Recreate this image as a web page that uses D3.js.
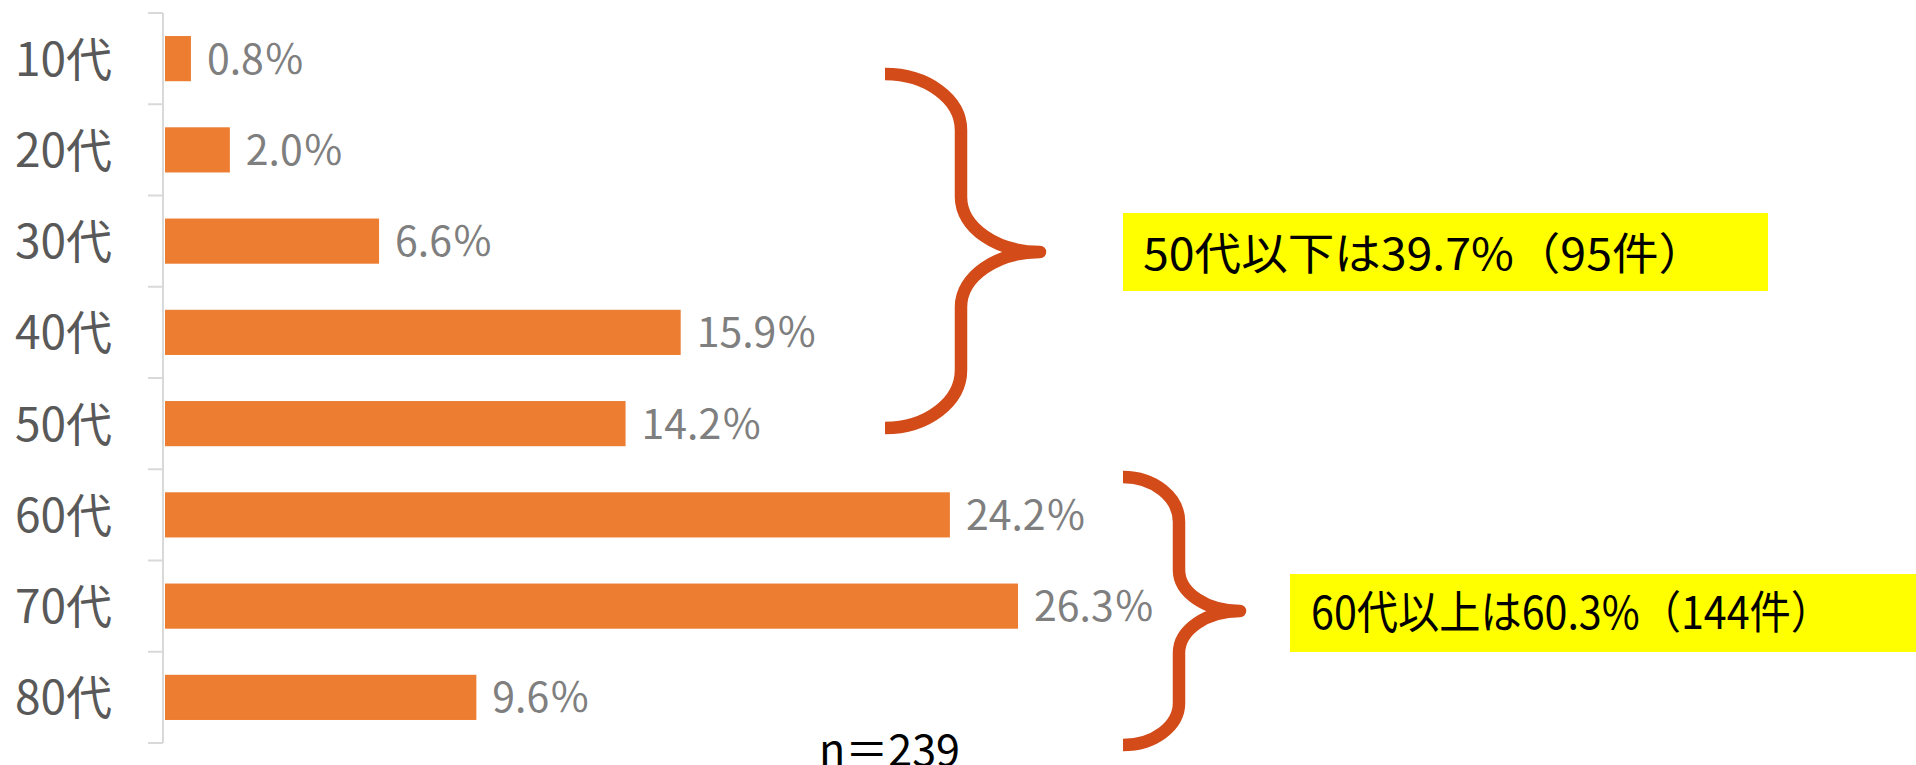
<!DOCTYPE html>
<html>
<head>
<meta charset="utf-8">
<script src="https://cdn.jsdelivr.net/npm/d3@7"></script>
<style>
  body { margin: 0; background: #fff; }
  svg { display: block; }
  text { font-family: "Noto Sans CJK JP", "Noto Sans", sans-serif; }
</style>
</head>
<body>
<script>
// age groups and share (%)
var ages = ["10代", "20代", "30代", "40代", "50代", "60代", "70代", "80代"];
var shares = [0.8, 2.0, 6.6, 15.9, 14.2, 24.2, 26.3, 9.6];
var shareLabels = ["0.8％", "2.0％", "6.6％", "15.9％", "14.2％", "24.2％", "26.3％", "9.6％"];
var noteTexts = ["50代以下は39.7%（95件）", "60代以上は60.3%（144件）"];
var sampleText = "n＝239";

var W = 1916, H = 765;
var axisX = 163, plotTop = 13, plotBottom = 743;

var svg = d3.select("body").append("svg")
  .attr("width", W)
  .attr("height", H);

var x = d3.scaleLinear()
  .domain([0, 30])
  .range([axisX + 2, axisX + 2 + 973]);

var y = d3.scaleBand()
  .domain(ages)
  .range([plotTop, plotBottom])
  .paddingInner(0.505)
  .paddingOuter(0.2525);

var data = ages.map(function (a, i) { return {age: a, v: shares[i], label: shareLabels[i]}; });

// bars
svg.selectAll("rect.bar")
  .data(data)
  .enter().append("rect")
  .attr("class", "bar")
  .attr("x", x(0))
  .attr("y", function (d) { return y(d.age); })
  .attr("width", function (d) { return x(d.v) - x(0); })
  .attr("height", y.bandwidth())
  .attr("fill", "#ed7d31");

// axis line + ticks at band edges
var edges = ages.map(function (a) { return y(a) - y.step() * y.paddingInner() / 2; });
edges.push(plotBottom);
svg.append("line")
  .attr("x1", axisX).attr("x2", axisX)
  .attr("y1", plotTop).attr("y2", plotBottom)
  .attr("stroke", "#d9d9d9").attr("stroke-width", 2);
svg.selectAll("line.tick")
  .data(edges)
  .enter().append("line")
  .attr("class", "tick")
  .attr("x1", axisX - 15).attr("x2", axisX)
  .attr("y1", function (d) { return d; })
  .attr("y2", function (d) { return d; })
  .attr("stroke", "#d9d9d9").attr("stroke-width", 2);

// category labels
svg.selectAll("text.cat")
  .data(data)
  .enter().append("text")
  .attr("class", "cat")
  .attr("x", 15)
  .attr("y", function (d) { return y(d.age) + y.bandwidth() / 2 + 17; })
  .attr("font-size", 46)
  .attr("fill", "#595959")
  .text(function (d) { return d.age; });

// value labels
svg.selectAll("text.val")
  .data(data)
  .enter().append("text")
  .attr("class", "val")
  .attr("x", function (d) { return x(d.v) + 16; })
  .attr("y", function (d) { return y(d.age) + y.bandwidth() / 2 + 15; })
  .attr("font-size", 41)
  .attr("fill", "#7f7f7f")
  .text(function (d) { return d.label; });

// braces (quarter-ellipse corners)
var k = 0.552;
function brace(x0, xm, xt, ys) {
  return "M" + x0 + "," + ys[0] +
    " C" + (x0 + (xm - x0) * k) + "," + ys[0] + " " + xm + "," + (ys[1] - (ys[1] - ys[0]) * k) + " " + xm + "," + ys[1] +
    " L" + xm + "," + ys[2] +
    " C" + xm + "," + (ys[2] + (ys[3] - ys[2]) * k) + " " + (xt - (xt - xm) * k) + "," + ys[3] + " " + xt + "," + ys[3] +
    " C" + (xt - (xt - xm) * k) + "," + ys[3] + " " + xm + "," + (ys[4] - (ys[4] - ys[3]) * k) + " " + xm + "," + ys[4] +
    " L" + xm + "," + ys[5] +
    " C" + xm + "," + (ys[5] + (ys[6] - ys[5]) * k) + " " + (x0 + (xm - x0) * k) + "," + ys[6] + " " + x0 + "," + ys[6];
}
svg.append("path")
  .attr("d", brace(885, 961, 1040, [74, 130, 197, 252, 307, 370, 428]))
  .attr("fill", "none").attr("stroke", "#d24b19").attr("stroke-width", 12.5)
  .attr("stroke-linejoin", "round");
svg.append("path")
  .attr("d", brace(1123, 1179, 1240, [477, 522, 570, 611, 653, 703, 745]))
  .attr("fill", "none").attr("stroke", "#d24b19").attr("stroke-width", 12.5)
  .attr("stroke-linejoin", "round");

// yellow note boxes
svg.append("rect").attr("x", 1123).attr("y", 213).attr("width", 645).attr("height", 78).attr("fill", "#ffff00");
svg.append("text").attr("x", 1143).attr("y", 270).attr("font-size", 44).attr("fill", "#000")
  .attr("textLength", 562).attr("lengthAdjust", "spacingAndGlyphs")
  .text(noteTexts[0]);
svg.append("rect").attr("x", 1290).attr("y", 574).attr("width", 626).attr("height", 78).attr("fill", "#ffff00");
svg.append("text").attr("x", 1311).attr("y", 629).attr("font-size", 45).attr("fill", "#000")
  .attr("textLength", 521).attr("lengthAdjust", "spacingAndGlyphs")
  .text(noteTexts[1]);

// sample size
svg.append("text").attr("x", 819).attr("y", 766).attr("font-size", 44).attr("fill", "#000")
  .attr("textLength", 141).attr("lengthAdjust", "spacingAndGlyphs")
  .text(sampleText);
</script>
</body>
</html>
